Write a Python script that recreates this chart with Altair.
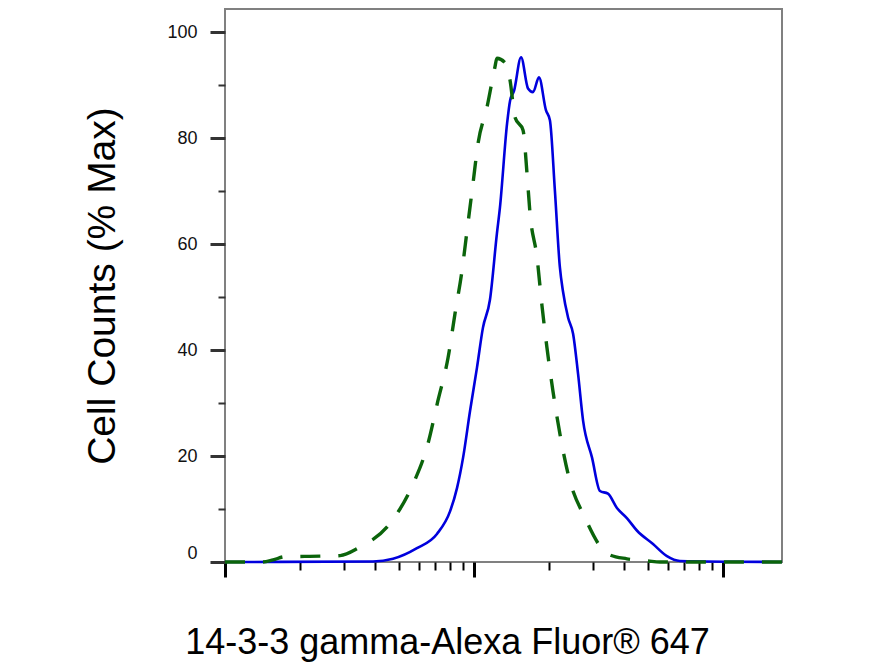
import altair as alt
import pandas as pd

# Blue (stained sample) histogram: fluorescence intensity vs % of max
x_blue = [100, 393, 473, 590, 710, 802, 855, 904, 964, 1028,
          1086, 1159, 1236, 1271, 1358, 1396, 1449, 1545, 1648, 1726,
          1824, 1945, 2018, 2113, 2213, 2275, 2388, 2500, 2618, 2742,
          2979, 3206, 3451, 3750, 4111, 4519, 5236, 5957, 6714, 17258]
y_blue = [0, 0.1, 0.6, 2.6, 5.3, 9.6, 14.0, 19.7, 28.5, 36.7,
          44.2, 49.5, 62.0, 66.9, 82.8, 87.1, 89.0, 95.3, 89.4, 88.7,
          91.5, 85.3, 83.4, 70.1, 55.6, 51.2, 46.1, 43.1, 35.5, 26.7,
          19.7, 13.4, 12.9, 10.2, 8.3, 5.9, 3.4, 1.1, 0.2, 0]

# Green dashed (control) histogram
x_green = [100, 141, 156, 174, 241, 290, 342, 469, 569, 653,
           716, 787, 839, 895, 938, 991, 1038, 1127, 1213, 1236,
           1330, 1396, 1462, 1574, 1633, 1679, 1791, 1875, 1963, 2075,
           2213, 2388, 2793, 3451, 4111, 5000, 5585, 17258]
y_green = [0, 0, 0.4, 1.0, 1.1, 1.2, 2.6, 7.8, 14.7, 22.3,
           30.4, 38.6, 46.9, 55.0, 62.6, 71.5, 79.0, 85.8, 93.4, 95.1,
           94.3, 90.9, 83.9, 81.5, 73.3, 65.8, 57.5, 48.4, 40.5, 32.3,
           24.2, 16.6, 8.3, 1.5, 0.6, 0.2, 0, 0]

x_major = [100, 1000, 10000]
x_minor = [200, 300, 400, 500, 600, 700, 800, 900,
           2000, 3000, 4000, 5000, 6000, 7000, 8000, 9000]
y_ticks = list(range(0, 101, 5))

x_domain = [100, 17258]
y_domain = [0, 104.4]

blue_df = pd.DataFrame({"x": x_blue, "y": y_blue})
green_df = pd.DataFrame({"x": x_green, "y": y_green})

FONT = "Liberation Sans"

major_test_x = "indexof([100, 1000, 10000], datum.value) >= 0"
major_test_y = "datum.value % 20 === 0"

x_enc = alt.X(
    "x:Q",
    scale=alt.Scale(type="log", domain=x_domain, nice=False),
    axis=alt.Axis(
        values=x_major + x_minor,
        labels=False,
        grid=False,
        domain=False,
        tickColor="#000000",
        tickSize={"condition": {"test": major_test_x, "value": 15}, "value": 8},
        tickWidth={"condition": {"test": major_test_x, "value": 3}, "value": 2},
        title="14-3-3 gamma-Alexa Fluor® 647",
        titleFont=FONT,
        titleFontSize=36,
        titleFontWeight="normal",
        titleColor="#000000",
        titleX=222,
        titleY=91,
        titleAlign="center",
        titleBaseline="alphabetic",
    ),
)

y_enc = alt.Y(
    "y:Q",
    scale=alt.Scale(domain=y_domain, nice=False, zero=False),
    axis=alt.Axis(
        values=y_ticks,
        grid=False,
        domain=False,
        labelExpr="datum.value % 20 === 0 ? datum.label : ''",
        labelFont=FONT,
        labelFontSize=18,
        labelColor="#111111",
        labelPadding=13,
        labelFlush=True,
        tickColor="#333333",
        tickSize={"condition": {"test": major_test_y, "value": 15}, "value": 7},
        tickWidth={"condition": {"test": major_test_y, "value": 3}, "value": 2},
        title="Cell Counts (% Max)",
        titleFont=FONT,
        titleFontSize=39,
        titleFontWeight="normal",
        titleColor="#000000",
        titlePadding=44,
    ),
)

blue = alt.Chart(blue_df).mark_line(
    color="#0000dd", strokeWidth=2.6, interpolate="monotone"
).encode(x=x_enc, y=y_enc)

green = alt.Chart(green_df).mark_line(
    color="#0b640b", strokeWidth=3.4, strokeDash=[20, 18], interpolate="monotone"
).encode(x="x:Q", y="y:Q")

chart = (
    alt.layer(blue, green)
    .properties(
        width=557,
        height=553,
        autosize=alt.AutoSizeParams(type="none"),
        padding={"left": 217, "top": 1, "right": 10, "bottom": 100},
    )
    .configure_view(stroke="#808080", strokeWidth=2)
)

chart.save("out.html", embed_options={"renderer": "svg", "actions": False})
